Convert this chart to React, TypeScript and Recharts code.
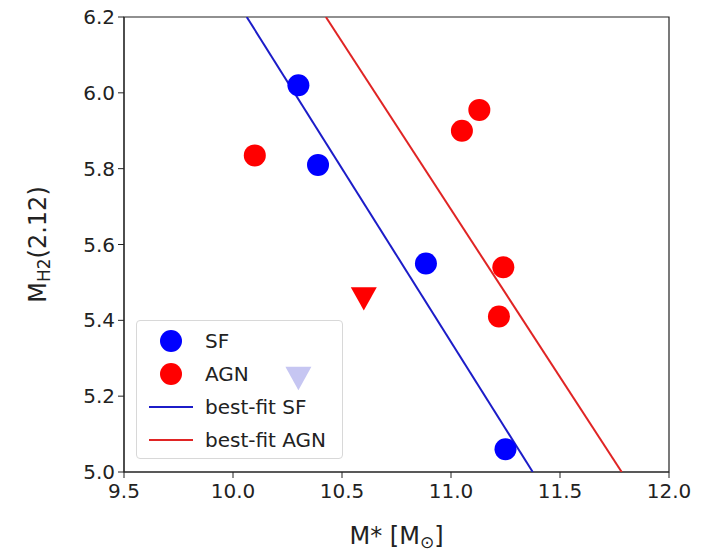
import React from "react";
import {
  ScatterChart,
  Scatter,
  XAxis,
  YAxis,
  ReferenceArea,
} from "recharts";

// stellar mass vs H2 mass
const sfMass = [10.3, 10.39, 10.885, 11.25];
const sfMh2 = [6.02, 5.81, 5.55, 5.06];
const agnMass = [10.1, 11.05, 11.13, 11.24, 11.22];
const agnMh2 = [5.835, 5.9, 5.955, 5.54, 5.41];
// upper limits (triangles)
const agnLimitMass = [10.6];
const agnLimitMh2 = [5.46];
const sfLimitMass = [10.3];
const sfLimitMh2 = [5.25];
// best-fit line endpoints
const fitSfMass = [10.063, 11.375];
const fitSfMh2 = [6.2, 5.0];
const fitAgnMass = [10.426, 11.783];
const fitAgnMh2 = [6.2, 5.0];

const xTicks = [9.5, 10.0, 10.5, 11.0, 11.5, 12.0];
const yTicks = [5.0, 5.2, 5.4, 5.6, 5.8, 6.0, 6.2];

const BLUE = "#0000ff";
const RED = "#ff0000";
const FIT_BLUE = "#1c1cc8";
const FIT_RED = "#e02424";
const FONT = "'DejaVu Sans', sans-serif";
const INK = "#222";

const zip = (xs: number[], ys: number[]) => xs.map((x, i) => ({ x, y: ys[i] }));

const Dot = (color: string) => (p: any) =>
  <circle cx={p.cx} cy={p.cy} r={11} fill={color} />;

const DownTri = (color: string) => (p: any) => {
  const s = 13;
  return (
    <path
      d={`M${p.cx - s},${p.cy - s * 0.8} L${p.cx + s},${p.cy - s * 0.8} L${p.cx},${p.cy + s} Z`}
      fill={color}
    />
  );
};

const NoShape = () => <g />;

function YLabel(props: any) {
  const vb = props.viewBox || { y: 17, height: 455 };
  const cx = 38;
  const cy = vb.y + vb.height / 2;
  return (
    <text
      x={cx}
      y={cy}
      transform={`rotate(-90, ${cx}, ${cy})`}
      textAnchor="middle"
      dominantBaseline="central"
      fontSize={24}
      fontFamily={FONT}
      fill={INK}
    >
      M
      <tspan dy={6} fontSize={17}>H2</tspan>
      <tspan dy={-6}>(2.12)</tspan>
    </text>
  );
}

function XLabel(props: any) {
  const vb = props.viewBox || { x: 124, width: 545 };
  const cx = vb.x + vb.width / 2;
  return (
    <text
      x={cx}
      y={544}
      textAnchor="middle"
      fontSize={24}
      fontFamily={FONT}
      fill={INK}
    >
      M* [M
      <tspan dy={4} fontSize={17}>⊙</tspan>
      <tspan dy={-4}>]</tspan>
    </text>
  );
}

const legendRows = [
  { kind: "dot", color: BLUE, label: "SF" },
  { kind: "dot", color: RED, label: "AGN" },
  { kind: "line", color: FIT_BLUE, label: "best-fit SF" },
  { kind: "line", color: FIT_RED, label: "best-fit AGN" },
];

// sits under the chart svg, so the marks stay on top of it
function LegendBox() {
  return (
    <div
      style={{
        position: "absolute",
        zIndex: 0,
        left: 136,
        top: 320,
        width: 207,
        height: 139,
        border: "1px solid #d8d8d8",
        borderRadius: 4,
        background: "#fff",
        boxSizing: "border-box",
        paddingTop: 3,
        fontFamily: FONT,
        fontSize: 20,
        color: INK,
      }}
    >
      {legendRows.map((r) => (
        <div
          key={r.label}
          style={{ display: "flex", alignItems: "center", height: 33 }}
        >
          <div style={{ width: 68, display: "flex", justifyContent: "center" }}>
            {r.kind === "dot" ? (
              <div
                style={{ width: 22, height: 22, borderRadius: 11, background: r.color }}
              />
            ) : (
              <div style={{ width: 44, height: 2, background: r.color }} />
            )}
          </div>
          <span>{r.label}</span>
        </div>
      ))}
    </div>
  );
}

export default function App() {
  return (
    <div
      style={{
        position: "absolute",
        left: 0,
        top: 0,
        width: 726,
        height: 555,
        background: "#fff",
      }}
    >
      <LegendBox />
      <div style={{ position: "absolute", left: 0, top: 0, zIndex: 1 }}>
        <ScatterChart
          width={726}
          height={555}
          margin={{ top: 17, right: 57, bottom: 0, left: 0 }}
        >
          <XAxis
            type="number"
            dataKey="x"
            domain={[9.5, 12]}
            ticks={xTicks}
            allowDataOverflow
            tickFormatter={(v: number) => v.toFixed(1)}
            height={83}
            tickSize={6}
            tickMargin={6}
            stroke={INK}
            tick={{ fontSize: 20, fontFamily: FONT, fill: INK }}
            label={<XLabel />}
          />
          <YAxis
            type="number"
            dataKey="y"
            domain={[5, 6.2]}
            ticks={yTicks}
            allowDataOverflow
            tickFormatter={(v: number) => v.toFixed(1)}
            width={124}
            tickSize={6}
            tickMargin={3}
            stroke={INK}
            tick={{ fontSize: 20, fontFamily: FONT, fill: INK }}
            label={<YLabel />}
          />
          <ReferenceArea
            x1={9.5}
            x2={12}
            y1={5}
            y2={6.2}
            fill="none"
            stroke={INK}
            strokeWidth={1.2}
            ifOverflow="visible"
          />
          <Scatter
            name="best-fit SF"
            data={zip(fitSfMass, fitSfMh2)}
            line={{ stroke: FIT_BLUE, strokeWidth: 2 }}
            shape={NoShape}
            isAnimationActive={false}
          />
          <Scatter
            name="best-fit AGN"
            data={zip(fitAgnMass, fitAgnMh2)}
            line={{ stroke: FIT_RED, strokeWidth: 2 }}
            shape={NoShape}
            isAnimationActive={false}
          />
          <Scatter
            name="SF"
            data={zip(sfMass, sfMh2)}
            shape={Dot(BLUE)}
            isAnimationActive={false}
          />
          <Scatter
            name="AGN"
            data={zip(agnMass, agnMh2)}
            shape={Dot(RED)}
            isAnimationActive={false}
          />
          <Scatter
            name="AGN limit"
            data={zip(agnLimitMass, agnLimitMh2)}
            shape={DownTri(RED)}
            isAnimationActive={false}
          />
          <Scatter
            name="SF limit"
            data={zip(sfLimitMass, sfLimitMh2)}
            shape={DownTri("#c6c6f2")}
            isAnimationActive={false}
          />
        </ScatterChart>
      </div>
    </div>
  );
}
